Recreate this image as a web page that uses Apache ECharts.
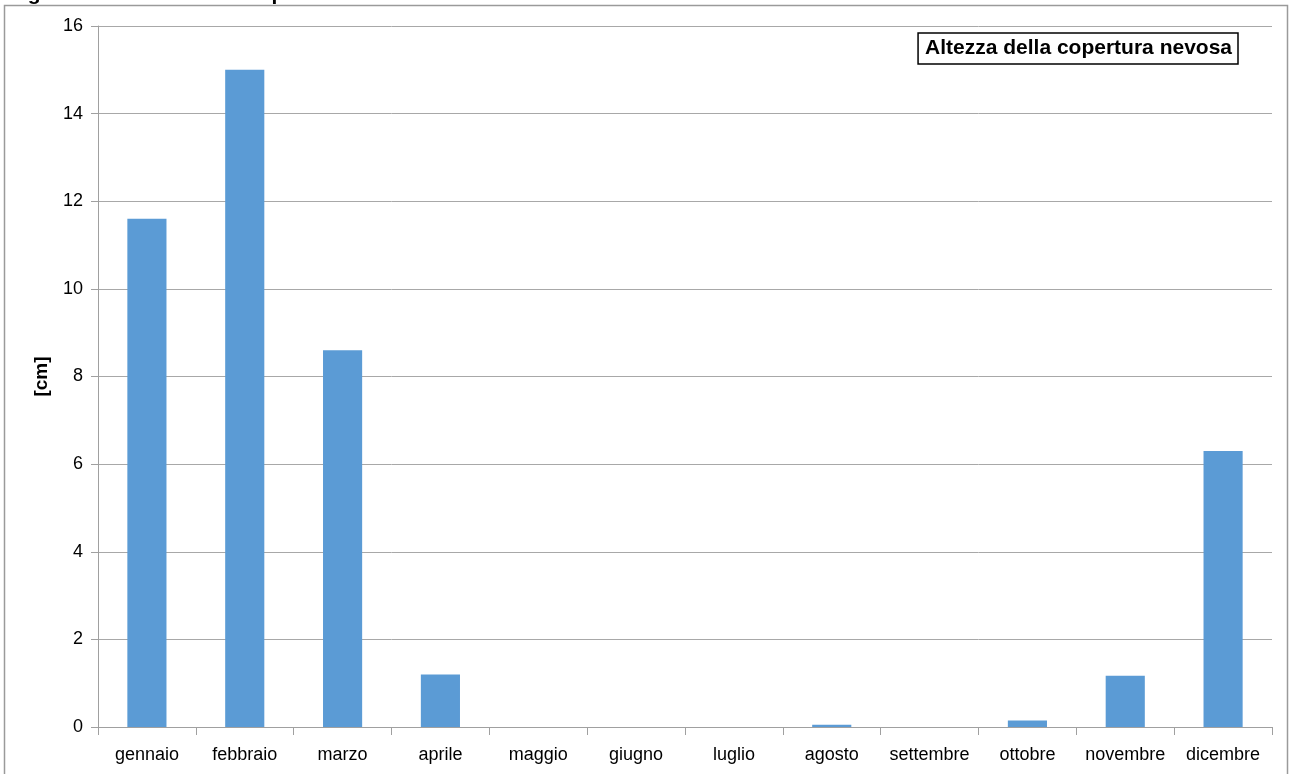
<!DOCTYPE html>
<html>
<head>
<meta charset="utf-8">
<script src="https://cdn.jsdelivr.net/npm/echarts@6/dist/echarts.min.js"></script>
<style>
  html, body { margin: 0; padding: 0; background: #fff; }
  #chart { width: 1290px; height: 774px; }
</style>
</head>
<body>
<div id="chart"></div>
<script>
// Monthly mean snow depth
const months = ['gennaio', 'febbraio', 'marzo', 'aprile', 'maggio', 'giugno',
                'luglio', 'agosto', 'settembre', 'ottobre', 'novembre', 'dicembre'];
const snowDepth = [11.6, 15.0, 8.6, 1.2, 0, 0, 0, 0.05, 0, 0.15, 1.17, 6.3];
const seriesName = 'Altezza della copertura nevosa';
const yTicks = [0, 2, 4, 6, 8, 10, 12, 14, 16];

const FONT = '"Liberation Sans", Arial, sans-serif';

const chart = echarts.init(document.getElementById('chart'));
chart.setOption({
  animation: false,
  backgroundColor: '#fff',
  textStyle: { fontFamily: FONT },
  graphic: [
    {
      type: 'rect',
      shape: { x: 4.5, y: 5.5, width: 1283, height: 780 },
      style: { fill: 'none', stroke: '#9a9a9a', lineWidth: 1.5 },
      silent: true
    },
    {
      type: 'text',
      x: 9,
      y: -6,
      style: {
        text: 'Figura 17: Altezza della copertura nevosa media mensile',
        fontFamily: FONT,
        fontWeight: 'bold',
        fontSize: 21,
        fill: '#000',
        verticalAlign: 'middle'
      },
      silent: true
    }
  ],
  legend: {
    data: [{ name: seriesName, icon: 'none' }],
    right: 52,
    top: 33,
    itemWidth: 0,
    itemGap: 0,
    padding: [5, 6, 5, 2],
    borderColor: '#000',
    borderWidth: 1.5,
    backgroundColor: '#fff',
    textStyle: { fontFamily: FONT, fontWeight: 'bold', fontSize: 21, color: '#000' },
    selectedMode: false
  },
  grid: { left: 98, right: 18, top: 26, bottom: 47, containLabel: false },
  xAxis: {
    type: 'category',
    data: months,
    axisLine: { lineStyle: { color: '#a0a0a0', width: 1 } },
    axisTick: { show: true, length: 8, lineStyle: { color: '#a0a0a0' } },
    axisLabel: { color: '#000', fontSize: 18, margin: 19, fontFamily: FONT, interval: 0 }
  },
  yAxis: {
    type: 'value',
    min: yTicks[0],
    max: yTicks[yTicks.length - 1],
    interval: 2,
    name: '[cm]',
    nameLocation: 'middle',
    nameGap: 47,
    nameRotate: 90,
    nameTextStyle: { fontFamily: FONT, fontWeight: 'bold', fontSize: 19, color: '#000' },
    axisLine: { show: true, lineStyle: { color: '#a0a0a0', width: 1 } },
    axisTick: { show: true, inside: false, length: 7, lineStyle: { color: '#a0a0a0' } },
    axisLabel: { color: '#000', fontSize: 18, margin: 15, fontFamily: FONT },
    splitLine: { show: true, lineStyle: { color: '#a8a8a8', width: 1 } }
  },
  series: [{
    name: seriesName,
    type: 'bar',
    data: snowDepth,
    barWidth: '40%',
    itemStyle: { color: '#5b9bd5' }
  }]
});
</script>
</body>
</html>
